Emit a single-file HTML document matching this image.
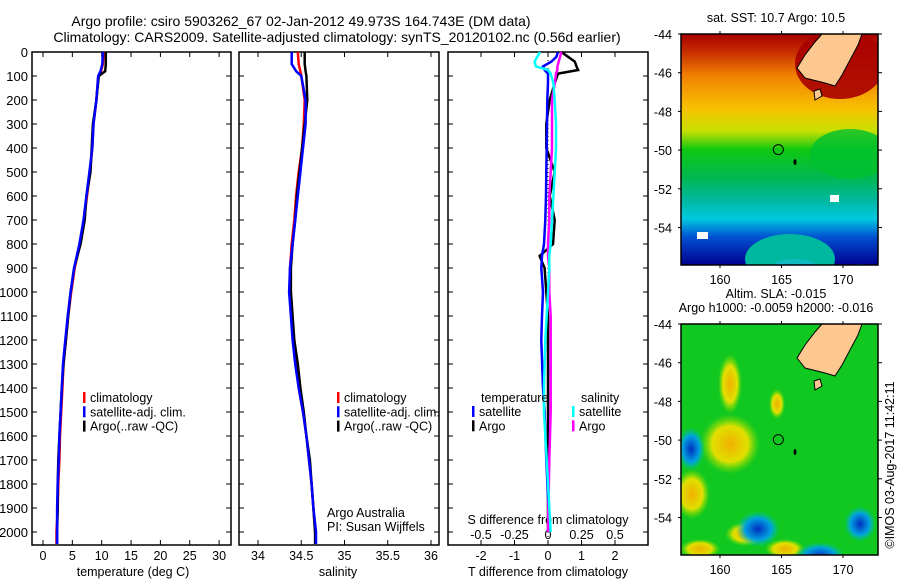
<!DOCTYPE html>
<html><head><meta charset="utf-8"><style>
body{margin:0;background:#fff}
svg{display:block;font-family:"Liberation Sans",sans-serif}
</style></head><body>
<svg id="c" width="900" height="580" xmlns="http://www.w3.org/2000/svg">
<defs>
<linearGradient id="sst" x1="0" y1="0" x2="0" y2="1">
<stop offset="0" stop-color="#a80000"/><stop offset="0.08" stop-color="#c83000"/><stop offset="0.18" stop-color="#f08000"/>
<stop offset="0.32" stop-color="#f8c000"/><stop offset="0.42" stop-color="#c8e000"/><stop offset="0.5" stop-color="#10c810"/>
<stop offset="0.62" stop-color="#00b850"/><stop offset="0.72" stop-color="#00b8a0"/><stop offset="0.8" stop-color="#00c8e0"/>
<stop offset="0.88" stop-color="#0050d0"/><stop offset="1" stop-color="#000090"/></linearGradient>
<radialGradient id="bb"><stop offset="0" stop-color="#0030c0"/><stop offset="0.6" stop-color="#00a0e0"/><stop offset="1" stop-color="#00c8a0" stop-opacity="0"/></radialGradient>
<radialGradient id="yb"><stop offset="0" stop-color="#f0b000"/><stop offset="0.6" stop-color="#e0e000"/><stop offset="1" stop-color="#80e000" stop-opacity="0"/></radialGradient>
<clipPath id="m1"><rect x="681" y="34" width="197" height="231"/></clipPath>
<clipPath id="m2"><rect x="681" y="324" width="197" height="231"/></clipPath>
</defs>
<g font-size="14" text-anchor="middle">
<text x="301" y="26">Argo profile: csiro 5903262_67 02-Jan-2012 49.973S 164.743E (DM data)</text>
<text x="337" y="42">Climatology: CARS2009. Satellite-adjusted climatology: synTS_20120102.nc (0.56d earlier)</text>
</g>
<g id="maps"></g>
<g id="plots"></g>
</svg>
<script>
const depths=[0,50,80,100,200,300,400,500,600,700,800,900,1000,1100,1200,1300,1400,1500,1600,1700,1800,1900,2000,2050];
const tempClim=[10.3,10.2,9.9,9.4,9.1,8.6,8.4,8.0,7.5,7.0,6.3,5.4,4.8,4.3,3.9,3.5,3.3,3.1,2.9,2.8,2.6,2.5,2.3,2.3];
const tempSat=[10.2,10.1,9.8,9.4,9.1,8.6,8.4,7.9,7.4,6.9,6.2,5.3,4.7,4.2,3.8,3.4,3.2,3.0,2.8,2.7,2.5,2.4,2.4,2.4];
const tempArgo=[10.7,10.7,10.6,9.5,9.1,8.5,8.3,8.1,7.4,7.1,6.4,5.3,4.7,4.3,3.9,3.5,3.2,3.0,2.8,2.6,2.5,2.5,2.4,2.4];
const salClim=[34.46,34.47,34.49,34.5,34.54,34.53,34.51,34.47,34.44,34.42,34.39,34.37,34.37,34.39,34.41,34.44,34.47,34.52,34.56,34.59,34.62,34.64,34.66,34.67];
const salSat=[34.39,34.39,34.44,34.5,34.55,34.55,34.52,34.49,34.46,34.43,34.4,34.37,34.36,34.38,34.4,34.43,34.47,34.52,34.56,34.59,34.62,34.64,34.67,34.67];
const salArgo=[34.54,34.54,34.55,34.56,34.57,34.54,34.51,34.48,34.45,34.43,34.4,34.38,34.38,34.4,34.42,34.46,34.49,34.53,34.56,34.6,34.62,34.64,34.66,34.66];
const diffDepths=[0,20,40,60,75,90,130,200,300,400,500,600,700,800,850,900,1000,1100,1200,1400,1500,1700,2000];
const tDiffSat=[0.3,0.25,0.1,-0.15,-0.1,0,0,-0.02,-0.03,-0.04,-0.05,-0.06,-0.08,-0.12,-0.18,-0.2,-0.15,-0.18,-0.2,-0.15,-0.1,-0.05,0.05];
const tDiffArgo=[0.4,0.6,0.8,0.85,0.9,0.3,0.2,0.05,-0.05,-0.05,0.2,0.05,0.2,0.15,-0.25,-0.1,-0.05,0,0,0,0,0,0];
const sDiffSat=[-0.06,-0.08,-0.1,-0.09,0,0.02,0.04,0.05,0.06,0.06,0.05,0.04,0.03,0.02,0.01,0.01,0,-0.01,-0.02,-0.03,-0.03,-0.01,0.02];
const sDiffArgo=[0.1,0.09,0.08,0.07,0.07,0.06,0.05,0.03,0.03,0.03,0.02,0.01,0.01,0,0,0.01,0.01,0.02,0.02,0.02,0.02,0.01,0];
const depthTicks=[0,100,200,300,400,500,600,700,800,900,1000,1100,1200,1300,1400,1500,1600,1700,1800,1900,2000];
const tempTicks=[0,5,10,15,20,25,30];
const salTicks=[34,34.5,35,35.5,36];
const tdTicks=[-2,-1,0,1,2];
const sdTicks=[-0.5,-0.25,0,0.25,0.5];
const latTicks=[-44,-46,-48,-50,-52,-54];
const lonTicks=[160,165,170];

const NS='http://www.w3.org/2000/svg';
const P=document.getElementById('plots'), M=document.getElementById('maps');
function mk(parent,tag,attrs,txt){const e=document.createElementNS(NS,tag);for(const k in attrs)e.setAttribute(k,attrs[k]);if(txt!==undefined)e.textContent=txt;parent.appendChild(e);return e;}
const yD=d=>52+0.24*d;
const xT=v=>43+5.87*v, xS=v=>258+86.5*(v-34), xTD=v=>548+33.5*v, xSD=v=>548+134*v;
const panels=[[32,231],[239,439],[448,648]];
panels.forEach((p,i)=>{
  const r=mk(P,'rect',{x:p[0],y:52,width:p[1]-p[0],height:493,fill:'none',stroke:'#000','stroke-width':1.5});
  
  
  depthTicks.forEach(d=>{
    mk(P,'line',{x1:p[0],x2:p[0]+5,y1:yD(d),y2:yD(d),stroke:'#000'});
    mk(P,'line',{x1:p[1]-5,x2:p[1],y1:yD(d),y2:yD(d),stroke:'#000'});
  });
});
depthTicks.forEach(d=>{
  const t=mk(P,'text',{x:28,y:yD(d)+5,'font-size':13,'text-anchor':'end'},String(d));
  
  
});
function xticks(ticks,fx,yLab,topTicks){
  ticks.forEach(v=>{
    const x=fx(v);
    if(topTicks){mk(P,'line',{x1:x,x2:x,y1:52,y2:57,stroke:'#000'});mk(P,'line',{x1:x,x2:x,y1:540,y2:545,stroke:'#000'});}
    const t=mk(P,'text',{x:x,y:yLab,'font-size':12.5,'text-anchor':'middle'},String(v));
    
    
  });
}
xticks(tempTicks,xT,560,true);
xticks(salTicks,xS,560,true);
xticks(tdTicks,xTD,560,true);
xticks(sdTicks,xSD,539,false);
[['temperature (deg C)',133,576,'temperature-axis-title'],['salinity',338,576,'salinity-axis-title'],['T difference from climatology',548,576,'t-diff-axis-title'],['S difference from climatology',548,524,'s-diff-axis-title']].forEach(a=>{
  const t=mk(P,'text',{x:a[1],y:a[2],'font-size':12.5,'text-anchor':'middle'},a[0]);
  
  
});
const z=mk(P,'line',{x1:548,x2:548,y1:yD(0),y2:yD(2050),stroke:'#000','stroke-dasharray':'1,3'});


function line(ds,vals,fx,col,name){
  const pts=vals.map((v,i)=>fx(v).toFixed(1)+','+yD(ds[i]).toFixed(1)).join(' ');
  const l=mk(P,'polyline',{points:pts,fill:'none',stroke:col,'stroke-width':2.5});
  
  
}
line(depths,tempClim,xT,'#f00','temp-climatology-line');
line(depths,tempArgo,xT,'#000','temp-argo-line');
line(depths,tempSat,xT,'#00f','temp-satellite-line');
line(depths,salClim,xS,'#f00','sal-climatology-line');
line(depths,salArgo,xS,'#000','sal-argo-line');
line(depths,salSat,xS,'#00f','sal-satellite-line');
line(diffDepths,tDiffArgo,xTD,'#000','tdiff-argo-line');
line(diffDepths,tDiffSat,xTD,'#00f','tdiff-satellite-line');
line(diffDepths,sDiffArgo,xSD,'#f0f','sdiff-argo-line');
line(diffDepths,sDiffSat,xSD,'#0ff','sdiff-satellite-line');
function legend(x,y,items){
  items.forEach((it,i)=>{
    const g=mk(P,'g',{});
    
    
    mk(g,'rect',{x:x,y:y+i*14.3-10,width:2.5,height:11,fill:it[1]});
    mk(g,'text',{x:x+7,y:y+i*14.3,'font-size':12.5},it[0]);
  });
}
const L1=[['climatology','#f00'],['satellite-adj. clim.','#00f'],['Argo(..raw -QC)','#000']];
legend(83,402,L1);legend(337,402,L1);
legend(472,416,[['satellite','#00f'],['Argo','#000']]);
legend(572,416,[['satellite','#0ff'],['Argo','#f0f']]);
[['temperature',481,402],['salinity',581,402],['Argo Australia',327,517],['PI: Susan Wijffels',327,531]].forEach(a=>{
  const t=mk(P,'text',{x:a[1],y:a[2],'font-size':12.5},a[0]);
  
  
});

const xLon=v=>720+12.3*(v-160);
const land=[[822,0],[862,0],[858,11],[850,26],[842,41],[835,52],[825,49],[805,44],[797,34],[805,21],[815,8]];
function map(y0,sst,titleLines){
  const latY=v=>y0+(-44-v)*19.35;
  const g=mk(M,'g',{'clip-path':'url(#'+(sst?'m1':'m2')+')'});
  
  
  if(sst){
    mk(g,'rect',{x:681,y:y0,width:197,height:231,fill:'url(#sst)'});
    mk(g,'ellipse',{cx:850,cy:y0+120,rx:40,ry:25,fill:'#00c030',opacity:0.8});
    mk(g,'ellipse',{cx:840,cy:y0+30,rx:45,ry:35,fill:'#a80000',opacity:0.9});
    mk(g,'ellipse',{cx:790,cy:y0+225,rx:45,ry:25,fill:'#00b8a0'});
    mk(g,'ellipse',{cx:795,cy:y0+240,rx:30,ry:15,fill:'#10b8c0'});
    mk(g,'ellipse',{cx:860,cy:y0+245,rx:25,ry:15,fill:'#0040c0'});
    mk(g,'rect',{x:697,y:y0+198,width:11,height:7,fill:'#fff'});
    mk(g,'rect',{x:830,y:y0+161,width:9,height:7,fill:'#fff'});
  } else {
    mk(g,'rect',{x:681,y:y0,width:197,height:231,fill:'#10c820'});
    [[730,y0+120,30,30,'yb'],[692,y0+170,18,25,'yb'],[745,y0+210,20,12,'yb'],[785,y0+225,20,10,'yb'],[700,y0+225,20,10,'yb'],
     [730,y0+60,12,30,'yb'],[777,y0+80,8,15,'yb'],[691,y0+125,14,22,'bb'],[758,y0+205,22,18,'bb'],[820,y0+232,25,14,'bb'],[860,y0+200,16,18,'bb']]
     .forEach(b=>mk(g,'ellipse',{cx:b[0],cy:b[1],rx:b[2],ry:b[3],fill:'url(#'+b[4]+')'}));
  }
  mk(g,'polygon',{points:land.map(p=>p[0]+','+(y0+p[1])).join(' '),fill:'#fcc890',stroke:'#000','stroke-width':1});
  mk(g,'polygon',{points:[[814,57],[820,55],[822,62],[815,66]].map(p=>p[0]+','+(y0+p[1])).join(' '),fill:'#fcc890',stroke:'#000'});
  mk(g,'ellipse',{cx:795,cy:y0+128,rx:1.5,ry:3,fill:'#000'});
  const c=mk(M,'circle',{cx:xLon(164.743),cy:latY(-49.973),r:5,fill:'none',stroke:'#000'});
  
  
  const fr=mk(M,'rect',{x:681,y:y0,width:197,height:231,fill:'none',stroke:'#000','stroke-width':1.5});
  
  
  latTicks.forEach(v=>{
    const y=latY(v);
    mk(M,'line',{x1:678,x2:681,y1:y,y2:y,stroke:'#000'});
    mk(M,'line',{x1:878,x2:882,y1:y,y2:y,stroke:'#000'});
    const t=mk(M,'text',{x:672,y:y+5,'font-size':12.5,'text-anchor':'end'},String(v));
    
    
  });
  lonTicks.forEach(v=>{
    const x=xLon(v);
    mk(M,'line',{x1:x,x2:x,y1:y0-3,y2:y0,stroke:'#000'});
    mk(M,'line',{x1:x,x2:x,y1:y0+231,y2:y0+234,stroke:'#000'});
    const t=mk(M,'text',{x:x,y:y0+250,'font-size':12.5,'text-anchor':'middle'},String(v));
    
    
  });
  titleLines.forEach((s,i)=>{
    const t=mk(M,'text',{x:776,y:y0-(titleLines.length-i)*14+2,'font-size':12.5,'text-anchor':'middle'},s);
    
    
  });
}
map(34,true,['sat. SST: 10.7 Argo: 10.5']);
map(324,false,['Altim. SLA: -0.015','Argo h1000: -0.0059 h2000: -0.016']);
const cr=mk(M,'text',{x:0,y:0,'font-size':12.5,'text-anchor':'middle',transform:'translate(894,465) rotate(-90)'},'©IMOS 03-Aug-2017 11:42:11');


</script>
</body></html>
